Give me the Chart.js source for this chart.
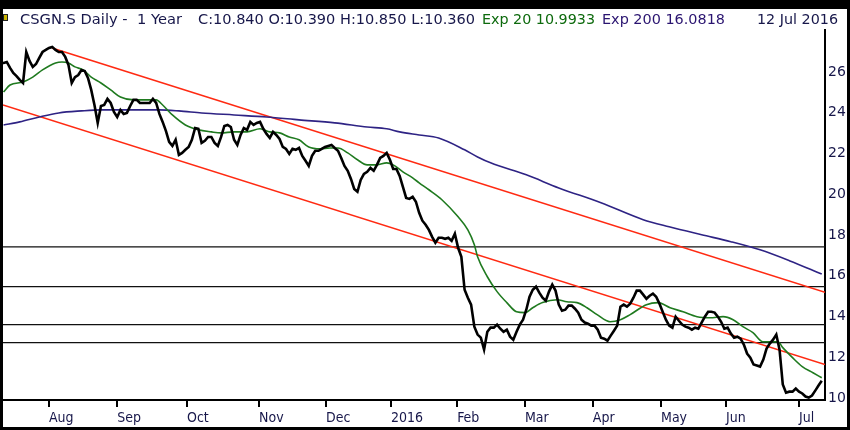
<!DOCTYPE html>
<html><head><meta charset="utf-8">
<script src="https://cdn.jsdelivr.net/npm/chart.js@4.4.1/dist/chart.umd.min.js"></script>
<style>html,body{margin:0;padding:0;background:#fff;overflow:hidden}#wrap{width:850px;height:430px}</style>
</head><body><div id="wrap"><canvas id="c" width="850" height="430"></canvas></div>
<script>
// Daily closes, one per trading day (index 0 = mid Jul 2015, last = 12 Jul 2016)
const closes = [26.44,26.44,26.49,26.20,25.95,25.80,25.61,25.46,26.98,26.54,
26.25,26.39,26.69,26.98,27.08,27.18,27.23,27.08,26.98,26.98,
26.74,26.34,25.46,25.75,25.85,26.10,26.05,25.71,25.12,24.38,
23.50,24.33,24.38,24.68,24.48,24.04,23.79,24.14,23.94,23.99,
24.33,24.63,24.63,24.48,24.48,24.48,24.48,24.68,24.48,23.94,
23.55,23.11,22.57,22.37,22.67,21.93,22.03,22.18,22.32,22.67,
23.25,23.21,22.52,22.62,22.81,22.81,22.52,22.37,22.81,23.35,
23.40,23.30,22.67,22.42,22.91,23.25,23.16,23.55,23.40,23.50,
23.55,23.21,22.96,22.76,23.06,22.91,22.71,22.32,22.22,21.98,
22.23,22.18,22.27,21.88,21.64,21.39,21.88,22.13,22.13,22.23,
22.32,22.37,22.42,22.27,22.13,21.78,21.39,21.15,20.75,20.26,
20.12,20.70,21.00,21.10,21.29,21.15,21.44,21.78,21.88,22.03,
21.69,21.24,21.24,20.90,20.36,19.82,19.77,19.87,19.63,19.09,
18.70,18.50,18.25,17.91,17.62,17.86,17.86,17.81,17.86,17.71,
18.06,17.37,16.93,15.31,14.92,14.58,13.50,13.11,12.96,12.37,
13.25,13.45,13.45,13.60,13.40,13.25,13.35,13.01,12.86,13.25,
13.60,13.84,14.33,14.97,15.31,15.46,15.17,14.92,14.77,15.22,
15.56,15.27,14.58,14.28,14.33,14.53,14.53,14.38,14.19,13.84,
13.70,13.65,13.55,13.55,13.35,12.96,12.91,12.81,13.06,13.30,
13.55,14.48,14.58,14.48,14.63,14.92,15.27,15.27,15.07,14.87,
15.02,15.12,14.97,14.63,14.23,13.84,13.55,13.45,13.99,13.79,
13.60,13.50,13.45,13.35,13.45,13.40,13.70,13.99,14.23,14.23,
14.19,13.99,13.74,13.40,13.45,13.16,12.96,13.01,12.91,12.62,
12.18,11.98,11.64,11.59,11.54,11.88,12.42,12.67,12.86,13.11,
12.37,10.66,10.26,10.31,10.31,10.46,10.31,10.22,10.07,10.02,
10.12,10.36,10.61,10.84];

// Exp 20 (green), read at these trading-day indices
const ema20Days = [1,3,7,10,13,17,19,21,23,25.5,28,31,34,37,41,45,48,50,53,57,61,65,68,72,76,80,83,86,89,92,95,98.5,101.5,104,107,110,113,116,119,121,124,127,129,132,136,141,144,146,147,150,153,156,159,161.6,164,167,171.5,174.5,177.6,180.7,183.8,187.8,191,194,199,202.6,206.3,210.3,214.6,218.6,222.6,225.7,228.7,231.8,234.9,238,239.5,241,244,247,250.3,253];
const ema20Vals = [25.02,25.36,25.51,25.75,26.10,26.44,26.49,26.44,26.25,26.10,25.75,25.46,25.12,24.77,24.63,24.63,24.63,24.38,23.89,23.40,23.16,23.06,23.01,23.06,23.06,23.21,23.06,23.01,22.81,22.67,22.32,22.23,22.27,22.27,22.03,21.69,21.44,21.44,21.54,21.44,21.10,20.80,20.56,20.22,19.73,18.89,18.25,17.52,16.93,15.95,15.22,14.68,14.23,14.19,14.43,14.68,14.82,14.72,14.68,14.43,14.09,13.74,13.84,14.09,14.58,14.68,14.43,14.23,13.99,13.94,13.99,13.84,13.50,13.21,12.76,12.76,12.76,12.47,11.98,11.54,11.24,10.99];

// Exp 200 (navy)
const ema200Days = [1,6,12,18,25,31,37,43,49,55,62,72,82,92,103,113,119,123,129,135,143,147,151,162,172,185,198,206,216,225,234,243,253];
const ema200Vals = [23.40,23.55,23.79,23.99,24.09,24.14,24.14,24.14,24.14,24.09,23.99,23.89,23.79,23.65,23.50,23.30,23.21,23.06,22.91,22.76,22.18,21.83,21.54,20.95,20.31,19.58,18.75,18.40,18.01,17.67,17.27,16.74,16.08];

// Red trend channel (day, value) end points
const upperTrendDays = [15.9, 254];
const upperTrendVals = [27.18, 15.19];
const lowerTrendDays = [0.83, 254];
const lowerTrendVals = [24.38, 11.64];

// Horizontal support / resistance levels
const levels = [17.42, 15.46, 13.60, 12.72];

// Axis ticks
const monthTickDays = [15, 36, 57.5, 79.7, 100.3, 120.3, 140.7, 161.6, 182.5, 203.5, 223.5, 246];
const monthLabels = ['Aug','Sep','Oct','Nov','Dec','2016','Feb','Mar','Apr','May','Jun','Jul'];
const yTicks = [10,12,14,16,18,20,22,24,26];

const xMin = 0.83, xMax = 254.0, yMin = 9.90, yMax = 28.06;

const pts = (xs, ys) => xs.map((x, i) => ({x: x, y: ys[i]}));

const datasets = [];
datasets.push({data: closes.map((v, i) => ({x: i, y: v})), borderColor: '#000', borderWidth: 2.6});
datasets.push({data: pts(ema20Days, ema20Vals), borderColor: '#1f7a1f', borderWidth: 1.6, cubicInterpolationMode: 'monotone'});
datasets.push({data: pts(ema200Days, ema200Vals), borderColor: '#2e2384', borderWidth: 1.6, cubicInterpolationMode: 'monotone'});
datasets.push({data: pts(upperTrendDays, upperTrendVals), borderColor: '#ff2a12', borderWidth: 1.6});
datasets.push({data: pts(lowerTrendDays, lowerTrendVals), borderColor: '#ff2a12', borderWidth: 1.6});
levels.forEach(l => datasets.push({data: [{x: xMin, y: l}, {x: xMax, y: l}], borderColor: '#111', borderWidth: 1.3}));
datasets.forEach(d => { d.pointRadius = 0; d.fill = false; if (d.tension === undefined) d.tension = 0; });

function fitText(ctx, txt, x, y, w) {
  const nat = ctx.measureText(txt).width;
  ctx.save();
  ctx.translate(x, y);
  ctx.scale(w / nat, 1);
  ctx.fillText(txt, 0, 0);
  ctx.restore();
}

const framePlugin = {
  id: 'frame',
  beforeDraw(chart) {
    const c = chart.ctx;
    c.save(); c.fillStyle = '#fff'; c.fillRect(0, 0, chart.width, chart.height); c.restore();
  },
  afterDraw(chart) {
    const c = chart.ctx;
    c.save();
    c.fillStyle = '#000';
    c.fillRect(0, 0, 850, 9);
    c.fillRect(0, 0, 3, 430);
    c.fillRect(847, 0, 3, 430);
    c.fillRect(0, 427, 850, 3);
    // icon
    c.fillStyle = '#c9b400'; c.fillRect(3, 14, 5, 7);
    c.strokeStyle = '#222'; c.lineWidth = 1; c.strokeRect(3.5, 14.5, 4, 6);
    c.font = '14px "DejaVu Sans", sans-serif';
    c.textBaseline = 'middle';
    c.fillStyle = '#17174a';
    fitText(c, 'CSGN.S Daily -  1 Year', 20, 20.5, 162);
    fitText(c, 'C:10.840 O:10.390 H:10.850 L:10.360', 198, 20.5, 277);
    c.fillStyle = '#0d6a0d';
    fitText(c, 'Exp 20 10.9933', 482, 20.5, 113);
    c.fillStyle = '#2a1470';
    fitText(c, 'Exp 200 16.0818', 602, 20.5, 123);
    c.fillStyle = '#17174a';
    fitText(c, '12 Jul 2016', 757, 20.5, 81);
    c.restore();
  }
};

new Chart(document.getElementById('c'), {
  type: 'line',
  data: {datasets: datasets},
  options: {
    responsive: false,
    animation: false,
    events: [],
    layout: {padding: {top: 30, left: 3, right: 0, bottom: 0}},
    plugins: {legend: {display: false}, tooltip: {enabled: false}},
    scales: {
      x: {
        type: 'linear', min: xMin, max: xMax, position: 'bottom',
        afterBuildTicks: s => { s.ticks = monthTickDays.map(v => ({value: v})); },
        afterFit: s => { s.height = 30; },
        grid: {drawOnChartArea: false, drawTicks: true, tickLength: 7, color: '#000', lineWidth: 2},
        border: {display: true, color: '#000', width: 2},
        ticks: {autoSkip: false, maxRotation: 0, minRotation: 0, align: 'start', padding: 3, color: '#17174a',
          font: {family: '"DejaVu Sans Condensed", "Liberation Sans Narrow", "DejaVu Sans", sans-serif', size: 14},
          callback: (v, i) => monthLabels[i]}
      },
      y: {
        type: 'linear', position: 'right', min: yMin, max: yMax,
        afterBuildTicks: s => { s.ticks = yTicks.map(v => ({value: v})); },
        afterFit: s => { s.width = 25; },
        grid: {display: false, drawTicks: false},
        border: {display: true, color: '#000', width: 2},
        ticks: {padding: 3, color: '#17174a', font: {family: '"DejaVu Sans", sans-serif', size: 14},
          callback: v => String(v)}
      }
    }
  },
  plugins: [framePlugin]
});
</script></body></html>
